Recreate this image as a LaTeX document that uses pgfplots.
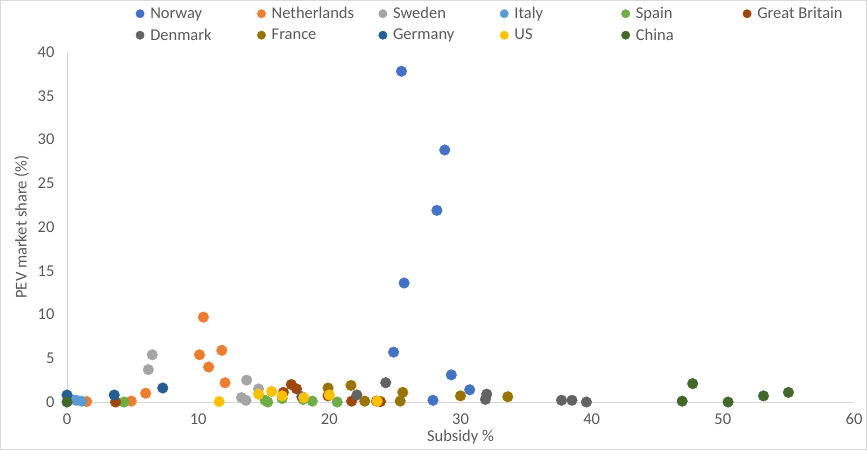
\documentclass[border=0pt]{standalone}
\usepackage{pgfplots}
\pgfplotsset{compat=1.18}
\usepackage{fontspec}
\setmainfont{Carlito}
\definecolor{cNor}{HTML}{4472C4}
\definecolor{cNed}{HTML}{ED7D31}
\definecolor{cSwe}{HTML}{A5A5A5}
\definecolor{cIta}{HTML}{5B9BD5}
\definecolor{cSpa}{HTML}{70AD47}
\definecolor{cGB}{HTML}{9E480E}
\definecolor{cDen}{HTML}{636363}
\definecolor{cFra}{HTML}{997300}
\definecolor{cGer}{HTML}{255E91}
\definecolor{cUS}{HTML}{FFC000}
\definecolor{cChi}{HTML}{43682B}
\definecolor{txt}{HTML}{595959}
\definecolor{axl}{HTML}{D9D9D9}
\begin{document}
\begin{tikzpicture}[x=1pt,y=1pt]
\useasboundingbox (0,0) rectangle (867,450);
\draw[axl] (0.5,0.5) rectangle (866.5,449.5);
\begin{axis}[
  at={(67pt,48pt)}, anchor=origin,
  scale only axis, width=787pt, height=350pt,
  xmin=0, xmax=60, ymin=0, ymax=40,
  xtick={0,10,...,60}, ytick={0,5,...,40},
  axis x line*=bottom, axis y line*=left,
  axis line style={draw=axl, line width=0.8pt, -},
  major tick length=0pt,
  clip=false,
  font=\fontsize{16.5}{19}\selectfont,
  tick label style={text=txt, font=\fontsize{16.5}{19}\selectfont},
  /pgf/number format/assume math mode=true,
  xticklabel style={yshift=-8pt},
  yticklabel style={xshift=-9pt},
  xlabel={Subsidy \%}, ylabel={PEV market share (\%)},
  label style={text=txt},
  xlabel style={yshift=2pt},
  ylabel style={yshift=2pt},
  legend columns=6,
  legend style={draw=none, fill=none, at={(0.086,1.137)}, anchor=north west,
    font=\fontsize{16.5}{19}\selectfont, text=txt, row sep=4.5pt, inner sep=1pt,
    /tikz/every odd column/.append style={column sep=4pt}},
  legend cell align=left,
  legend image post style={mark size=4.2pt},
  every axis plot/.append style={only marks, mark=*, mark size=5.3pt},
]
\addplot[cNor] coordinates {(25.5,37.8) (28.8,28.8) (28.2,21.9) (25.7,13.6) (24.9,5.7) (29.3,3.1) (27.9,0.2) (30.7,1.4)};
\addplot[cNed] coordinates {(10.4,9.7) (10.1,5.4) (10.8,4.0) (11.8,5.9) (12.05,2.2) (6.0,1.0) (4.9,0.1) (1.5,0.05)};
\addplot[cSwe] coordinates {(6.5,5.4) (6.2,3.7) (13.7,2.5) (13.3,0.5) (13.65,0.2) (14.6,1.5)};
\addplot[cIta] coordinates {(0.3,0.3) (0.7,0.2) (1.1,0.1)};
\addplot[cSpa] coordinates {(4.35,0.0) (15.1,0.2) (15.3,0.0) (16.4,0.4) (18.0,0.3) (18.7,0.1) (20.6,0.0)};
\addplot[cGB] coordinates {(3.7,0.0) (17.1,2.0) (17.5,1.5) (16.5,1.1) (19.9,0.7) (21.7,0.1) (23.6,0.1) (23.9,0.05)};
\addplot[cDen] coordinates {(24.3,2.2) (22.1,0.8) (17.9,0.6) (32.0,0.9) (31.9,0.3) (37.7,0.2) (38.5,0.2) (39.6,0.0)};
\addplot[cFra] coordinates {(19.9,1.6) (21.65,1.9) (22.7,0.1) (25.4,0.1) (25.6,1.1) (30.0,0.7) (33.6,0.6)};
\addplot[cGer] coordinates {(0.0,0.8) (3.6,0.8) (7.3,1.6)};
\addplot[cUS] coordinates {(11.6,0.05) (14.6,0.9) (15.6,1.2) (16.4,0.7) (18.05,0.5) (20.0,0.8) (23.65,0.1)};
\addplot[cChi] coordinates {(0.0,0.0) (46.9,0.1) (47.7,2.1) (50.4,0.0) (53.1,0.7) (55.0,1.1)};
\legend{\makebox[105pt][l]{Norway},\makebox[105pt][l]{Netherlands},\makebox[105pt][l]{Sweden},\makebox[105pt][l]{Italy},\makebox[105pt][l]{Spain},\makebox[105pt][l]{Great Britain},Denmark,France,Germany,US,China}
\end{axis}
\end{tikzpicture}
\end{document}
